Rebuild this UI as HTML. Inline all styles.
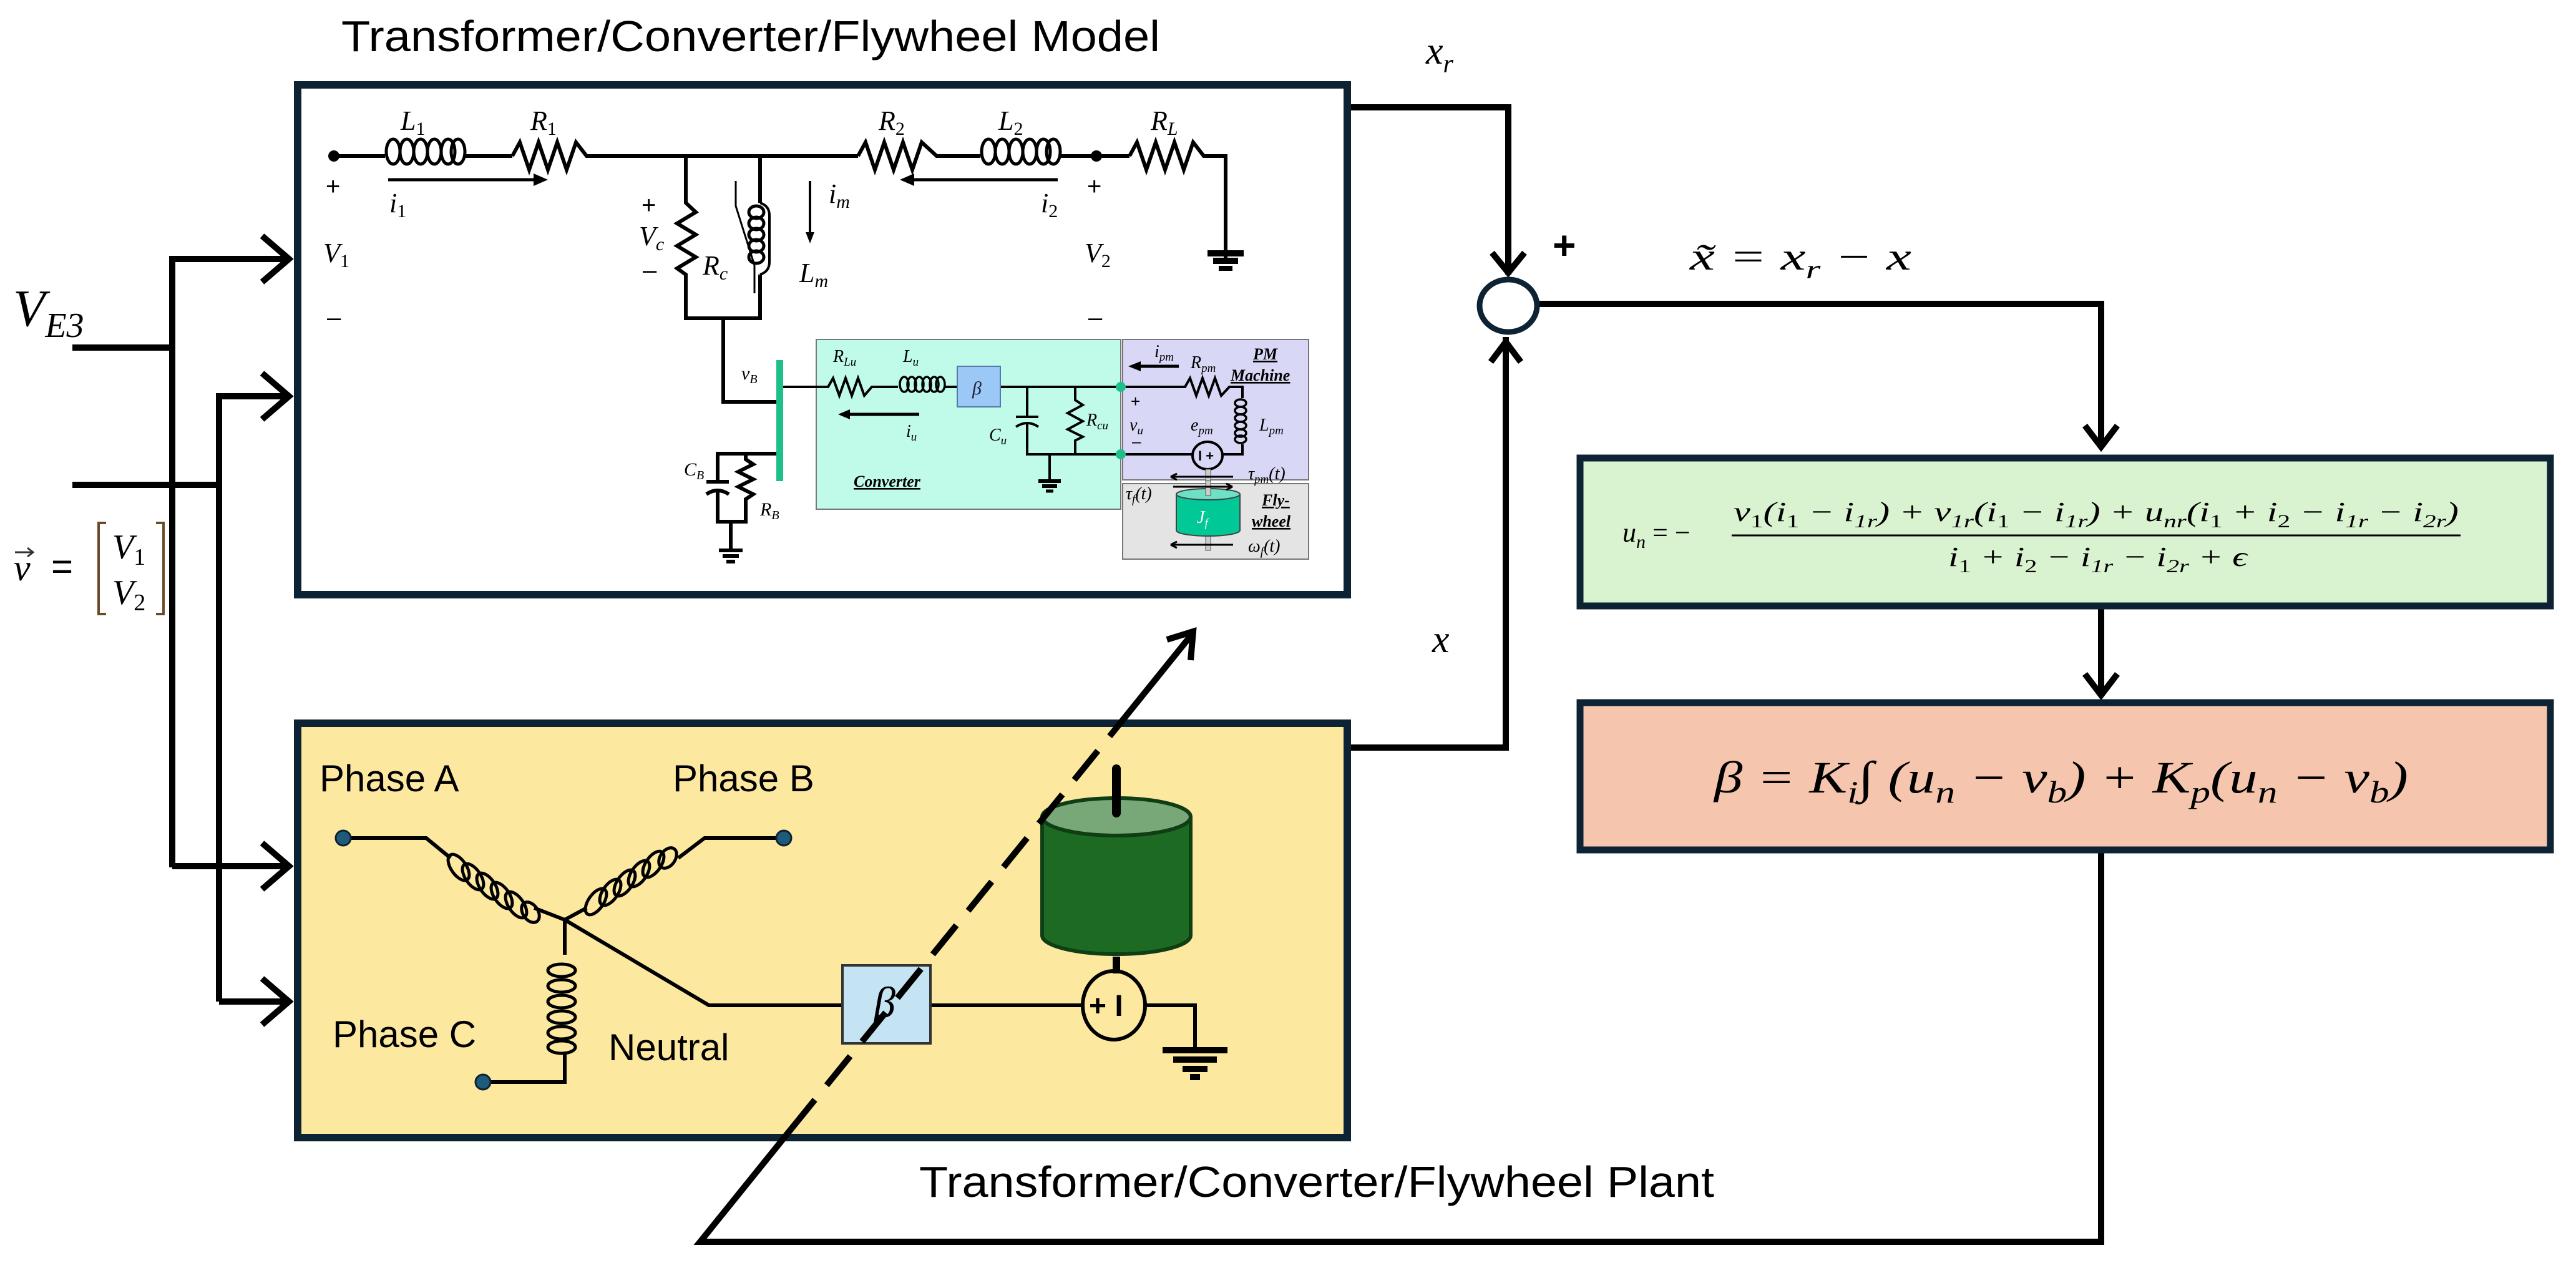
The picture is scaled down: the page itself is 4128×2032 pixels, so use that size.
<!DOCTYPE html>
<html><head><meta charset="utf-8"><style>
html,body{margin:0;padding:0;background:#fff;}
svg{display:block;}
.s{font-family:"Liberation Sans",sans-serif;}
.m{font-family:"Liberation Serif",serif;font-style:italic;}
</style></head><body>
<svg width="4128" height="2032" viewBox="0 0 4128 2032" xmlns="http://www.w3.org/2000/svg">
<rect width="4128" height="2032" fill="#fff"/>

<text class="s" x="547" y="82" font-size="70" textLength="1312" lengthAdjust="spacingAndGlyphs">Transformer/Converter/Flywheel Model</text>
<text class="s" x="1473" y="1918" font-size="70" textLength="1274" lengthAdjust="spacingAndGlyphs">Transformer/Converter/Flywheel Plant</text>

<g stroke="#000" stroke-width="10" fill="none">
<polyline points="116,557 276,557"/>
<polyline points="116,777 351,777"/>
<polyline points="276,1390 276,415 460,415"/>
<polyline points="351,1605 351,635 460,635"/>
<polyline points="276,1388 460,1388"/>
<polyline points="351,1605 460,1605"/>
<polyline points="420,378 463,415 420,452"/>
<polyline points="420,598 463,635 420,672"/>
<polyline points="420,1351 463,1388 420,1425"/>
<polyline points="420,1568 463,1605 420,1642"/>
</g>
<text class="m" x="21" y="522" font-size="84">V<tspan font-size="56" dy="18">E3</tspan></text>
<text class="m" x="22" y="930" font-size="60">v</text>
<path d="M24,885 h28 M44,878 l9,7 l-9,7" stroke="#333" stroke-width="3" fill="none"/>
<text class="s" x="82" y="928" font-size="60">=</text>
<path d="M170,838 h-12 v146 h12 M250,838 h12 v146 h-12" stroke="#6b4a2a" stroke-width="4" fill="none"/>
<text class="m" x="180" y="895" font-size="56">V<tspan font-size="38" dy="10" font-style="normal">1</tspan></text>
<text class="m" x="180" y="968" font-size="56">V<tspan font-size="38" dy="10" font-style="normal">2</tspan></text>

<rect x="477" y="136" width="1682" height="817" fill="#fff" stroke="#0d2233" stroke-width="12"/>

<g stroke="#000" stroke-width="6" fill="none">
<line x1="535" y1="250" x2="617" y2="250"/>
<g stroke-width="5"><ellipse cx="630" cy="243" rx="11" ry="20"/><ellipse cx="652" cy="243" rx="11" ry="20"/><ellipse cx="674" cy="243" rx="11" ry="20"/><ellipse cx="696" cy="243" rx="11" ry="20"/><ellipse cx="718" cy="243" rx="11" ry="20"/><ellipse cx="734" cy="243" rx="11" ry="20"/></g>
<line x1="744" y1="250" x2="821" y2="250"/>
<polyline points="821,250 833,228 848,272 863,228 878,272 893,228 908,272 923,228 940,250 1375,250"/>
<polyline points="1375,250 1387,228 1402,272 1417,228 1432,272 1447,228 1462,272 1477,228 1501,250 1571,250"/>
<g stroke-width="5"><ellipse cx="1584" cy="243" rx="11" ry="20"/><ellipse cx="1606" cy="243" rx="11" ry="20"/><ellipse cx="1628" cy="243" rx="11" ry="20"/><ellipse cx="1650" cy="243" rx="11" ry="20"/><ellipse cx="1672" cy="243" rx="11" ry="20"/><ellipse cx="1688" cy="243" rx="11" ry="20"/></g>
<line x1="1698" y1="250" x2="1810" y2="250"/>
<polyline points="1810,250 1822,228 1837,272 1852,228 1867,272 1882,228 1897,272 1912,228 1929,250 1964,250 1964,420"/>
<polyline points="1099,250 1099,325 1115,340 1085,358 1115,376 1085,394 1115,412 1085,430 1099,440 1099,510 1218,510 1218,440"/>
<line x1="1218" y1="250" x2="1218" y2="325"/>
<g stroke-width="5"><ellipse cx="1212" cy="340" rx="12" ry="10"/><ellipse cx="1212" cy="358" rx="12" ry="10"/><ellipse cx="1212" cy="376" rx="12" ry="10"/><ellipse cx="1212" cy="394" rx="12" ry="10"/><ellipse cx="1212" cy="412" rx="12" ry="10"/></g>
<path d="M1218,325 q15,5 15,20 v75 q0,15 -15,20" stroke-width="4"/>
<path d="M1179,290 v40 l30,95 l0,45" stroke-width="3"/>
<polyline points="1159,510 1159,644 1249,644" />
<polyline points="1249,727 1150,727 1150,772"/>
<line x1="1132" y1="772" x2="1168" y2="772"/>
<path d="M1132,792 q18,-12 36,0"/>
<polyline points="1150,788 1150,836 1195,836 1195,800 1207,792 1183,780 1207,768 1183,756 1207,744 1195,736 1195,727"/>
<line x1="1171" y1="836" x2="1171" y2="880"/>
<line x1="1152" y1="882" x2="1190" y2="882"/><line x1="1158" y1="891" x2="1184" y2="891"/><line x1="1164" y1="900" x2="1178" y2="900"/>
<line x1="1935" y1="406" x2="1993" y2="406" stroke-width="10"/><line x1="1944" y1="418" x2="1984" y2="418" stroke-width="10"/><line x1="1953" y1="430" x2="1975" y2="430" stroke-width="8"/>
<line x1="622" y1="288" x2="860" y2="288" stroke-width="5"/>
<line x1="1460" y1="288" x2="1695" y2="288" stroke-width="5"/>
<line x1="1298" y1="290" x2="1298" y2="375" stroke-width="4"/>
</g>
<polygon points="878,288 855,278 855,298" fill="#000"/>
<polygon points="1442,288 1465,278 1465,298" fill="#000"/>
<polygon points="1298,390 1291,372 1305,372" fill="#000"/>
<circle cx="535" cy="250" r="9" fill="#000"/><circle cx="1757" cy="250" r="9" fill="#000"/>
<g class="m" font-size="44" fill="#000">
<text x="642" y="208">L<tspan font-size="30" dy="8" font-style="normal">1</tspan></text>
<text x="850" y="208">R<tspan font-size="30" dy="8" font-style="normal">1</tspan></text>
<text x="1408" y="208">R<tspan font-size="30" dy="8" font-style="normal">2</tspan></text>
<text x="1600" y="208">L<tspan font-size="30" dy="8" font-style="normal">2</tspan></text>
<text x="1844" y="208">R<tspan font-size="30" dy="8">L</tspan></text>
<text x="624" y="340">i<tspan font-size="30" dy="8" font-style="normal">1</tspan></text>
<text x="1668" y="340">i<tspan font-size="30" dy="8" font-style="normal">2</tspan></text>
<text x="1328" y="325">i<tspan font-size="30" dy="8">m</tspan></text>
<text x="518" y="420">V<tspan font-size="30" dy="8" font-style="normal">1</tspan></text>
<text x="1738" y="420">V<tspan font-size="30" dy="8" font-style="normal">2</tspan></text>
<text x="1024" y="393">V<tspan font-size="30" dy="8">c</tspan></text>
<text x="1126" y="440">R<tspan font-size="30" dy="8">c</tspan></text>
<text x="1281" y="452">L<tspan font-size="30" dy="8">m</tspan></text>
<text x="1188" y="608" font-size="30">v<tspan font-size="20" dy="6">B</tspan></text>
<text x="1096" y="762" font-size="30">C<tspan font-size="20" dy="6">B</tspan></text>
<text x="1218" y="826" font-size="30">R<tspan font-size="20" dy="6">B</tspan></text>
</g>
<g class="s" font-size="40" fill="#000">
<text x="522" y="312">+</text><text x="524" y="522">–</text>
<text x="1742" y="312">+</text><text x="1744" y="522">–</text>
<text x="1028" y="342">+</text><text x="1030" y="446">–</text>
</g>

<rect x="1308" y="544" width="488" height="272" fill="#c0fbe9" stroke="#777" stroke-width="2"/>
<rect x="1799" y="544" width="298" height="225" fill="#d8d8f6" stroke="#777" stroke-width="2"/>
<rect x="1799" y="775" width="298" height="121" fill="#e4e4e4" stroke="#777" stroke-width="2"/>
<rect x="1244" y="577" width="11" height="194" fill="#1fbf8a"/>
<g stroke="#000" stroke-width="4" fill="none">
<polyline points="1255,620 1327,620 1335,606 1345,634 1355,606 1365,634 1375,606 1385,634 1397,620 1439,620"/>
<g stroke-width="3.5"><ellipse cx="1449" cy="616" rx="7" ry="12"/><ellipse cx="1461" cy="616" rx="7" ry="12"/><ellipse cx="1473" cy="616" rx="7" ry="12"/><ellipse cx="1485" cy="616" rx="7" ry="12"/><ellipse cx="1497" cy="616" rx="7" ry="12"/><ellipse cx="1507" cy="616" rx="7" ry="12"/></g>
<line x1="1514" y1="620" x2="1534" y2="620"/>
<polyline points="1603,620 1800,620"/>
<polyline points="1646,620 1646,668"/><line x1="1628" y1="668" x2="1664" y2="668"/><path d="M1628,684 q18,-12 36,0"/>
<polyline points="1646,678 1646,728 1800,728"/>
<polyline points="1723,620 1723,641 1735,649 1711,662 1735,675 1711,688 1735,700 1723,706 1723,728"/>
<line x1="1682" y1="728" x2="1682" y2="770"/>
<line x1="1664" y1="771" x2="1700" y2="771" stroke-width="6"/><line x1="1670" y1="779" x2="1694" y2="779" stroke-width="6"/><line x1="1676" y1="787" x2="1688" y2="787" stroke-width="5"/>
<line x1="1360" y1="664" x2="1473" y2="664" stroke-width="5"/>
<polyline points="1800,620 1899,620 1907,606 1917,634 1927,606 1937,634 1947,606 1957,634 1970,620 1991,620 1991,638"/>
<g stroke-width="3.5"><ellipse cx="1988" cy="646" rx="9" ry="6"/><ellipse cx="1988" cy="658" rx="9" ry="6"/><ellipse cx="1988" cy="670" rx="9" ry="6"/><ellipse cx="1988" cy="682" rx="9" ry="6"/><ellipse cx="1988" cy="694" rx="9" ry="6"/><ellipse cx="1988" cy="704" rx="9" ry="6"/></g>
<polyline points="1991,712 1991,728 1959,728"/>
<line x1="1800" y1="728" x2="1911" y2="728"/>
<ellipse cx="1935" cy="730" rx="24" ry="22" stroke-width="4"/>
<line x1="1826" y1="587" x2="1889" y2="587" stroke-width="5"/>
</g>
<polygon points="1343,664 1362,656 1362,672" fill="#000"/>
<polygon points="1808,587 1828,579 1828,595" fill="#000"/>
<rect x="1534" y="587" width="69" height="65" fill="#9cc8f8" stroke="#5577aa" stroke-width="2"/>
<text class="m" x="1558" y="632" font-size="30" fill="#223">β</text>
<circle cx="1796" cy="620" r="8" fill="#1fbf8a"/><circle cx="1796" cy="728" r="8" fill="#1fbf8a"/>
<text class="s" x="1920" y="738" font-size="22" font-weight="bold">I +</text>
<rect x="1932" y="752" width="8" height="130" fill="#ccc" stroke="#555" stroke-width="1"/>
<path d="M1885,792 v58 a51,9 0 0 0 102,0 v-58" fill="#00c896" stroke="#444" stroke-width="2"/>
<ellipse cx="1936" cy="792" rx="51" ry="9" fill="#6ee0c4" stroke="#444" stroke-width="2"/>
<rect x="1932" y="770" width="8" height="24" fill="#ccc" stroke="#555" stroke-width="1"/>
<g stroke="#000" stroke-width="3" fill="none">
<path d="M1876,764 h100 M1876,764 l10,-5 M1876,764 l10,5"/>
<path d="M1880,780 h95 M1975,780 l-10,-5 M1975,780 l-10,5"/>
<path d="M1876,873 h100 M1876,873 l10,-5 M1876,873 l10,5"/>
</g>
<g class="m" font-size="28" fill="#000">
<text x="1335" y="580">R<tspan font-size="19" dy="6">Lu</tspan></text>
<text x="1447" y="580">L<tspan font-size="19" dy="6">u</tspan></text>
<text x="1452" y="700">i<tspan font-size="19" dy="6">u</tspan></text>
<text x="1585" y="706">C<tspan font-size="19" dy="6">u</tspan></text>
<text x="1741" y="682">R<tspan font-size="19" dy="6">cu</tspan></text>
<text x="1810" y="690">v<tspan font-size="19" dy="6">u</tspan></text>
<text x="1908" y="690">e<tspan font-size="19" dy="6">pm</tspan></text>
<text x="2018" y="690">L<tspan font-size="19" dy="6">pm</tspan></text>
<text x="1850" y="572">i<tspan font-size="19" dy="6">pm</tspan></text>
<text x="1908" y="590">R<tspan font-size="19" dy="6">pm</tspan></text>
<text x="2000" y="768">τ<tspan font-size="19" dy="6">pm</tspan><tspan dy="-6">(t)</tspan></text>
<text x="1804" y="800">τ<tspan font-size="19" dy="6">f</tspan><tspan dy="-6">(t)</tspan></text>
<text x="2000" y="884">ω<tspan font-size="19" dy="6">f</tspan><tspan dy="-6">(t)</tspan></text>
<text x="1918" y="838" fill="#fff">J<tspan font-size="19" dy="6">f</tspan></text>
</g>
<g class="m" font-size="26" font-weight="bold" fill="#000" text-decoration="underline">
<text x="1368" y="780">Converter</text>
<text x="2008" y="576">PM</text>
<text x="1972" y="610">Machine</text>
<text x="2022" y="810">Fly-</text>
<text x="2006" y="844">wheel</text>
</g>
<g class="s" font-size="26"><text x="1812" y="652">+</text><text x="1814" y="716">–</text></g>

<rect x="477" y="1159" width="1682" height="664" fill="#fde8a0" stroke="#0d2233" stroke-width="12"/>
<g class="s" font-size="60" fill="#000">
<text x="512" y="1268">Phase A</text>
<text x="1078" y="1268">Phase B</text>
<text x="533" y="1678">Phase C</text>
<text x="975" y="1699">Neutral</text>
</g>
<g stroke="#000" stroke-width="6" fill="none">
<polyline points="550,1343 683,1343 722,1375"/>
<polyline points="1256,1343 1129,1343 1087,1375"/>
<polyline points="856,1455 905,1474 940,1455"/>
<g stroke-width="5">
<ellipse cx="735" cy="1390" rx="12" ry="24" transform="rotate(-35 735 1390)"/>
<ellipse cx="758" cy="1405" rx="12" ry="24" transform="rotate(-35 758 1405)"/>
<ellipse cx="781" cy="1420" rx="12" ry="24" transform="rotate(-35 781 1420)"/>
<ellipse cx="804" cy="1435" rx="12" ry="24" transform="rotate(-35 804 1435)"/>
<ellipse cx="827" cy="1450" rx="12" ry="24" transform="rotate(-35 827 1450)"/>
<ellipse cx="850" cy="1462" rx="12" ry="18" transform="rotate(-35 850 1462)"/>
<ellipse cx="955" cy="1445" rx="12" ry="24" transform="rotate(35 955 1445)"/>
<ellipse cx="978" cy="1430" rx="12" ry="24" transform="rotate(35 978 1430)"/>
<ellipse cx="1001" cy="1415" rx="12" ry="24" transform="rotate(35 1001 1415)"/>
<ellipse cx="1024" cy="1400" rx="12" ry="24" transform="rotate(35 1024 1400)"/>
<ellipse cx="1047" cy="1385" rx="12" ry="24" transform="rotate(35 1047 1385)"/>
<ellipse cx="1070" cy="1375" rx="12" ry="18" transform="rotate(35 1070 1375)"/>
<ellipse cx="900" cy="1555" rx="22" ry="10"/>
<ellipse cx="900" cy="1580" rx="22" ry="10"/>
<ellipse cx="900" cy="1605" rx="22" ry="10"/>
<ellipse cx="900" cy="1630" rx="22" ry="10"/>
<ellipse cx="900" cy="1655" rx="22" ry="10"/>
<ellipse cx="900" cy="1678" rx="22" ry="10"/>
</g>
<polyline points="905,1474 905,1530"/>
<polyline points="905,1690 905,1734 774,1734"/>
<polyline points="905,1474 1136,1611 1350,1611"/>
<polyline points="1491,1611 1735,1611"/>
<polyline points="1835,1611 1915,1611 1915,1680"/>
<line x1="1789" y1="1533" x2="1789" y2="1560" stroke-width="12"/>
</g>
<g stroke="#000" stroke-width="10">
<line x1="1863" y1="1683" x2="1967" y2="1683"/><line x1="1880" y1="1698" x2="1950" y2="1698"/><line x1="1895" y1="1713" x2="1935" y2="1713"/><line x1="1907" y1="1726" x2="1923" y2="1726"/>
</g>
<ellipse cx="1785" cy="1611" rx="50" ry="55" fill="none" stroke="#000" stroke-width="6"/>
<text class="s" x="1745" y="1628" font-size="48" font-weight="bold">+ I</text>
<circle cx="550" cy="1343" r="12" fill="#1e5a7a" stroke="#0d2233" stroke-width="3"/>
<circle cx="1256" cy="1343" r="12" fill="#1e5a7a" stroke="#0d2233" stroke-width="3"/>
<circle cx="774" cy="1734" r="12" fill="#1e5a7a" stroke="#0d2233" stroke-width="3"/>
<path d="M1670,1309 v190 a119,30 0 0 0 238,0 v-190" fill="#1d6b22" stroke="#0f3d14" stroke-width="6"/>
<ellipse cx="1789" cy="1309" rx="119" ry="30" fill="#78a878" stroke="#0f3d14" stroke-width="6"/>
<line x1="1789" y1="1232" x2="1789" y2="1303" stroke="#000" stroke-width="14" stroke-linecap="round"/>
<rect x="1350" y="1547" width="141" height="125" fill="#c4e4f4" stroke="#333" stroke-width="4"/>
<text class="m" x="1400" y="1630" font-size="70">β</text>

<g stroke="#000" stroke-width="10" fill="none">
<polyline points="3367,1367 3367,1990 1122,1990 1268,1809"/>
<line x1="1268" y1="1809" x2="1791" y2="1164" stroke-dasharray="60,30"/>
<line x1="1791" y1="1164" x2="1912" y2="1014"/>
<polyline points="1870,1025 1912,1012 1908,1058"/>
</g>

<g stroke="#000" stroke-width="10" fill="none">
<polyline points="2165,172 2417,172 2417,440"/>
<polyline points="2391,405 2417,437 2443,405"/>
<polyline points="2165,1198 2413,1198 2413,540"/>
<polyline points="2389,580 2413,548 2437,580"/>
<polyline points="2465,487 3367,487 3367,716"/>
<polyline points="3341,682 3367,716 3393,682"/>
<polyline points="3367,976 3367,1114"/>
<polyline points="3341,1080 3367,1114 3393,1080"/>
</g>
<ellipse cx="2417" cy="490" rx="46" ry="42" fill="#fff" stroke="#0d2233" stroke-width="9"/>
<text class="s" x="2488" y="415" font-size="64" font-weight="bold">+</text>
<text class="m" x="2285" y="102" font-size="62">x<tspan font-size="42" dy="14">r</tspan></text>
<text class="m" x="2295" y="1045" font-size="62">x</text>
<text class="m" x="2708" y="432" font-size="62" textLength="355" lengthAdjust="spacingAndGlyphs">x̃ = x<tspan font-size="42" dy="14">r</tspan><tspan dy="-14"> − x</tspan></text>

<rect x="2532" y="734" width="1555" height="237" fill="#d9f2d0" stroke="#0d2233" stroke-width="11"/>
<g class="m" font-size="44" fill="#000">
<text x="2600" y="868">u<tspan font-size="30" dy="10">n</tspan><tspan dy="-10" font-style="normal"> = −</tspan></text>
<text x="2778" y="835" textLength="1162" lengthAdjust="spacingAndGlyphs">v<tspan font-size="30" dy="10" font-style="normal">1</tspan><tspan dy="-10">(i</tspan><tspan font-size="30" dy="10" font-style="normal">1</tspan><tspan dy="-10"> − i</tspan><tspan font-size="30" dy="10">1r</tspan><tspan dy="-10">) + v</tspan><tspan font-size="30" dy="10">1r</tspan><tspan dy="-10">(i</tspan><tspan font-size="30" dy="10" font-style="normal">1</tspan><tspan dy="-10"> − i</tspan><tspan font-size="30" dy="10">1r</tspan><tspan dy="-10">) + u</tspan><tspan font-size="30" dy="10">nr</tspan><tspan dy="-10">(i</tspan><tspan font-size="30" dy="10" font-style="normal">1</tspan><tspan dy="-10"> + i</tspan><tspan font-size="30" dy="10" font-style="normal">2</tspan><tspan dy="-10"> − i</tspan><tspan font-size="30" dy="10">1r</tspan><tspan dy="-10"> − i</tspan><tspan font-size="30" dy="10">2r</tspan><tspan dy="-10">)</tspan></text>
<text x="3122" y="907" textLength="479" lengthAdjust="spacingAndGlyphs">i<tspan font-size="30" dy="10" font-style="normal">1</tspan><tspan dy="-10"> + i</tspan><tspan font-size="30" dy="10" font-style="normal">2</tspan><tspan dy="-10"> − i</tspan><tspan font-size="30" dy="10">1r</tspan><tspan dy="-10"> − i</tspan><tspan font-size="30" dy="10">2r</tspan><tspan dy="-10"> + ϵ</tspan></text>
</g>
<line x1="2775" y1="858" x2="3943" y2="858" stroke="#000" stroke-width="3"/>

<rect x="2532" y="1126" width="1555" height="236" fill="#f5c6ad" stroke="#0d2233" stroke-width="11"/>
<text class="m" x="2747" y="1270" font-size="72" fill="#000" textLength="1112" lengthAdjust="spacingAndGlyphs">β = K<tspan font-size="50" dy="16">i</tspan><tspan dy="-16">∫ (u</tspan><tspan font-size="50" dy="16">n</tspan><tspan dy="-16"> − v</tspan><tspan font-size="50" dy="16">b</tspan><tspan dy="-16">) + K</tspan><tspan font-size="50" dy="16">p</tspan><tspan dy="-16">(u</tspan><tspan font-size="50" dy="16">n</tspan><tspan dy="-16"> − v</tspan><tspan font-size="50" dy="16">b</tspan><tspan dy="-16">)</tspan></text>
</svg>
</body></html>
